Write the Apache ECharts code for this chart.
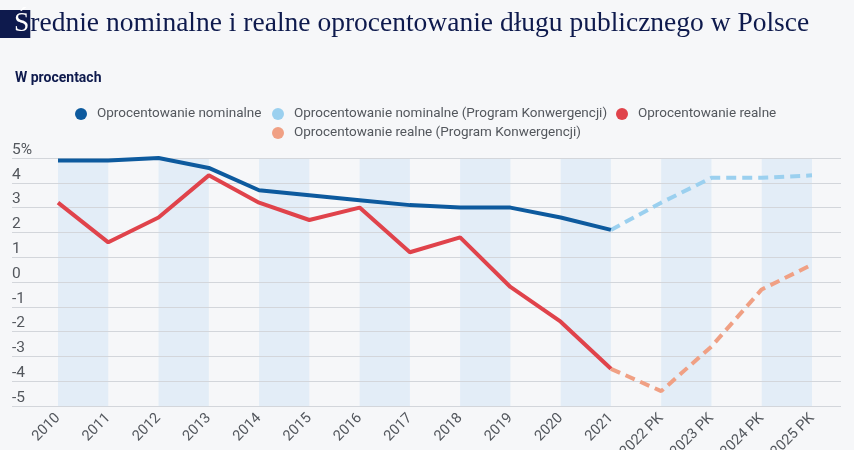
<!DOCTYPE html>
<html>
<head>
<meta charset="utf-8">
<script src="https://cdn.jsdelivr.net/npm/echarts@6/dist/echarts.min.js"></script>
<style>
html,body{margin:0;padding:0;background:#f6f7f9;}
#c{width:854px;height:450px;}
</style>
</head>
<body>
<div id="c"></div>
<script>
const categories = ['2010','2011','2012','2013','2014','2015','2016','2017','2018','2019','2020','2021','2022 PK','2023 PK','2024 PK','2025 PK'];
const nominal    = [4.9, 4.9, 5.0, 4.6, 3.7, 3.5, 3.3, 3.1, 3.0, 3.0, 2.6, 2.1, null, null, null, null];
const nominalPK  = [null, null, null, null, null, null, null, null, null, null, null, 2.1, 3.2, 4.2, 4.2, 4.3];
const real       = [3.2, 1.6, 2.6, 4.3, 3.2, 2.5, 3.0, 1.2, 1.8, -0.2, -1.6, -3.5, null, null, null, null];
const realPK     = [null, null, null, null, null, null, null, null, null, null, null, -3.5, -4.4, -2.6, -0.3, 0.7];
const seriesNames = ['Oprocentowanie nominalne', 'Oprocentowanie nominalne (Program Konwergencji)', 'Oprocentowanie realne', 'Oprocentowanie realne (Program Konwergencji)'];
const yTicks = { min: -5, max: 5, step: 1 };
const titleText = 'Średnie nominalne i realne oprocentowanie długu publicznego w Polsce';
const subtitleText = 'W procentach';

const colors = ['#0d5a9e', '#9bd0ef', '#e0434b', '#f0a084'];
const navy = '#0e1a4d';
const labelColor = '#53575d';

const chart = echarts.init(document.getElementById('c'), null, {renderer: 'canvas'});

function legendAt(name, left, top) {
  return {
    data: [name], left: left, top: top, icon: 'circle', itemWidth: 12, itemHeight: 12,
    padding: 0, itemGap: 0, selectedMode: false,
    textStyle: {fontFamily: 'Roboto', fontSize: 13.5, color: labelColor, padding: [0,0,0,5]}
  };
}

const option = {
  backgroundColor: '#f6f7f9',
  animation: false,
  title: [
    {
      text: '{a|' + titleText.charAt(0) + '}{b|' + titleText.slice(1) + '}',
      left: 0, top: 10, padding: 0,
      textStyle: {
        rich: {
          a: {fontFamily: 'Liberation Serif', fontWeight: 'normal', fontSize: 27.5, color: '#ffffff', backgroundColor: navy,
              height: 28, lineHeight: 28, padding: [0, 1, 0, 14]},
          b: {fontFamily: 'Liberation Serif', fontWeight: 'normal', fontSize: 27.5, color: navy, height: 28, lineHeight: 28}
        }
      }
    },
    {
      text: subtitleText, left: 15, top: 71, padding: 0,
      textStyle: {fontFamily: 'Roboto', fontWeight: 'bold', fontSize: 14, color: navy}
    }
  ],
  legend: [
    legendAt(seriesNames[0], 75, 107),
    legendAt(seriesNames[1], 272, 107),
    legendAt(seriesNames[2], 616, 107),
    legendAt(seriesNames[3], 272, 126)
  ],
  grid: [
    {left: 12, right: 13, top: 158, bottom: 44, outerBoundsMode: 'none', containLabel: false},
    {left: 58, right: 42, top: 158, bottom: 44, outerBoundsMode: 'none', containLabel: false}
  ],
  xAxis: [
    {type: 'value', gridIndex: 0, show: false, min: 0, max: 1},
    {
      type: 'category', gridIndex: 1, data: categories, boundaryGap: false, z: 0,
      axisLine: {show: false}, axisTick: {show: false}, splitLine: {show: false},
      splitArea: {show: true, interval: 0, areaStyle: {color: ['#e3edf7', 'rgba(0,0,0,0)']}},
      axisLabel: {interval: 0, rotate: 45, margin: 10, fontFamily: 'Roboto', fontSize: 14.5, color: labelColor}
    }
  ],
  yAxis: [
    {
      type: 'value', gridIndex: 0, min: yTicks.min, max: yTicks.max, interval: yTicks.step, z: 1,
      axisLine: {show: false}, axisTick: {show: false},
      splitLine: {show: true, lineStyle: {color: '#d3d6db', width: 1.2}},
      axisLabel: {
        inside: true, margin: 0, align: 'left', verticalAlign: 'bottom', padding: [0,0,0,0],
        fontFamily: 'Roboto', fontSize: 15.5, color: labelColor,
        formatter: function (v) { return v === yTicks.max ? v + '%' : String(v); }
      }
    },
    {type: 'value', gridIndex: 1, min: yTicks.min, max: yTicks.max, interval: yTicks.step, show: false}
  ],
  series: [
    {name: seriesNames[0], type: 'line', data: nominal, xAxisIndex: 1, yAxisIndex: 1, symbol: 'none', color: colors[0],
     lineStyle: {width: 4, color: colors[0]}, z: 3},
    {name: seriesNames[1], type: 'line', data: nominalPK, xAxisIndex: 1, yAxisIndex: 1, symbol: 'none', color: colors[1],
     lineStyle: {width: 4, color: colors[1], type: [10, 6]}, z: 2},
    {name: seriesNames[2], type: 'line', data: real, xAxisIndex: 1, yAxisIndex: 1, symbol: 'none', color: colors[2],
     lineStyle: {width: 4, color: colors[2]}, z: 3},
    {name: seriesNames[3], type: 'line', data: realPK, xAxisIndex: 1, yAxisIndex: 1, symbol: 'none', color: colors[3],
     lineStyle: {width: 4, color: colors[3], type: [10, 6]}, z: 2}
  ]
};
chart.setOption(option);
</script>
</body>
</html>
